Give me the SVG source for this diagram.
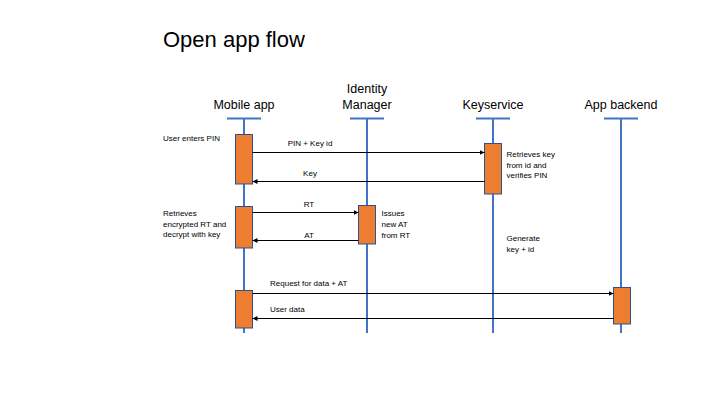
<svg xmlns="http://www.w3.org/2000/svg" width="720" height="405" viewBox="0 0 720 405">
<defs>
<style>
.title{font-family:"Liberation Sans",Arial,sans-serif;font-size:22px;fill:#000}
.head{font-family:"Liberation Sans",Arial,sans-serif;font-size:12.5px;fill:#000;text-anchor:middle}
.lbl{font-family:"Liberation Sans",Arial,sans-serif;font-size:8px;fill:#000}
.life{stroke:#4472C4;stroke-width:2;fill:none}
.act{fill:#ED7D31;stroke:#2F528F;stroke-width:1}
.msg{stroke:#000;stroke-width:1;fill:none;marker-end:url(#ah)}
</style>
<marker id="ah" markerUnits="userSpaceOnUse" markerWidth="6" markerHeight="6" refX="5" refY="3" orient="auto">
<path d="M0,0.5 L5,3 L0,5.5 Z" fill="#000"/>
</marker>
</defs>
<rect width="720" height="405" fill="#fff"/>
<text class="title" x="163" y="47">Open app flow</text>

<g id="mobile">
<text class="head" x="244" y="109">Mobile app</text>
<path class="life" d="M227,118.5 H261 M244,118.5 V333"/>
<rect class="act" x="235.5" y="134.5" width="17" height="49.5"/>
<rect class="act" x="235.5" y="206.5" width="17" height="41.5"/>
<rect class="act" x="235.5" y="290.5" width="17" height="37.5"/>
<text class="lbl" x="163" y="141">User enters PIN</text>
<text class="lbl" x="163" y="216">Retrieves</text>
<text class="lbl" x="163" y="226.5">encrypted RT and</text>
<text class="lbl" x="163" y="237">decrypt with key</text>
</g>

<g id="identity">
<text class="head" x="367" y="93">Identity</text>
<text class="head" x="367" y="109">Manager</text>
<path class="life" d="M350,118.5 H384 M367,118.5 V333"/>
<rect class="act" x="358.5" y="205.5" width="17" height="38.5"/>
<text class="lbl" x="381.5" y="216">Issues</text>
<text class="lbl" x="381.5" y="227">new AT</text>
<text class="lbl" x="381.5" y="238">from RT</text>
</g>

<g id="keyservice">
<text class="head" x="493" y="109">Keyservice</text>
<path class="life" d="M476,118.5 H510 M493,118.5 V333"/>
<rect class="act" x="484.5" y="143.5" width="17" height="50.5"/>
<text class="lbl" x="506.5" y="157">Retrieves key</text>
<text class="lbl" x="506.5" y="167.5">from id and</text>
<text class="lbl" x="506.5" y="178">verifies PIN</text>
<text class="lbl" x="506.5" y="241">Generate</text>
<text class="lbl" x="506.5" y="252">key + id</text>
</g>

<g id="backend">
<text class="head" x="621" y="109">App backend</text>
<path class="life" d="M604,118.5 H638 M621,118.5 V333"/>
<rect class="act" x="613.5" y="287.5" width="17" height="36.5"/>
</g>

<g id="connectors">
<line class="msg" x1="252.5" y1="152.5" x2="484.5" y2="152.5"/>
<text class="lbl" x="310" y="146" text-anchor="middle">PIN + Key id</text>
<line class="msg" x1="484.5" y1="181.5" x2="252.5" y2="181.5"/>
<text class="lbl" x="310" y="175.5" text-anchor="middle">Key</text>
<line class="msg" x1="252.5" y1="212.5" x2="358.5" y2="212.5"/>
<text class="lbl" x="309" y="207" text-anchor="middle">RT</text>
<line class="msg" x1="358.5" y1="240.5" x2="252.5" y2="240.5"/>
<text class="lbl" x="309" y="237.5" text-anchor="middle">AT</text>
<line class="msg" x1="252.5" y1="293.5" x2="613.5" y2="293.5"/>
<text class="lbl" x="270" y="286">Request for data + AT</text>
<line class="msg" x1="613.5" y1="318.5" x2="252.5" y2="318.5"/>
<text class="lbl" x="270" y="312">User data</text>
</g>
</svg>
